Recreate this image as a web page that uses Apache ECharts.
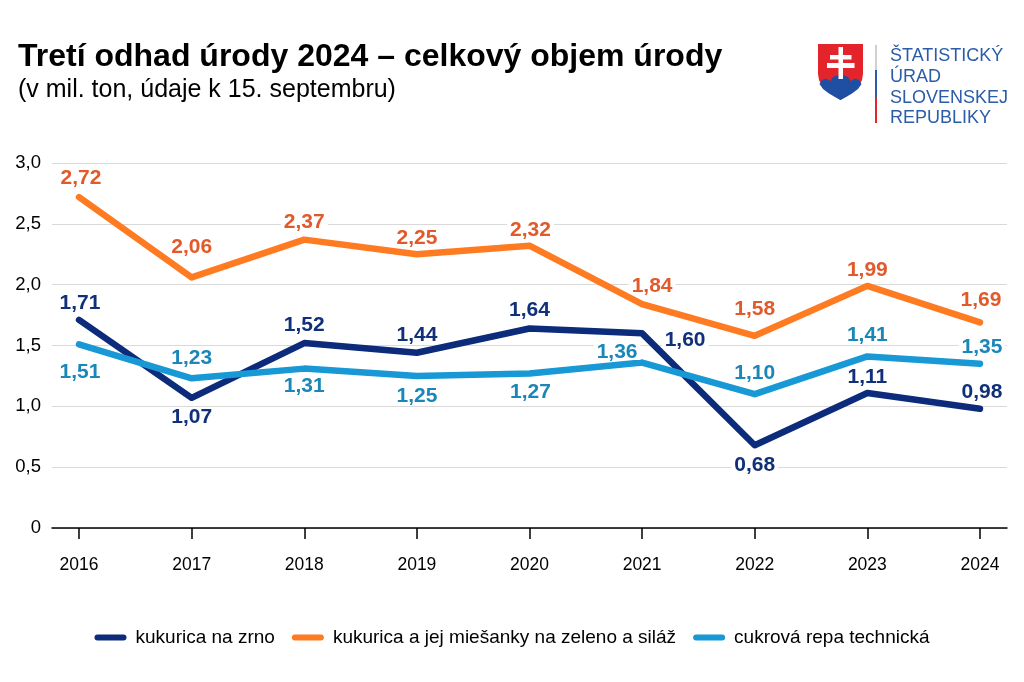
<!DOCTYPE html>
<html>
<head>
<meta charset="utf-8">
<script src="https://cdn.jsdelivr.net/npm/echarts@6/dist/echarts.min.js"></script>
<style>
html,body{margin:0;padding:0;background:#fff;}
#chart{width:1024px;height:682px;}
</style>
</head>
<body>
<div id="chart"></div>
<script>
// ---- data ----
const years = [2016, 2017, 2018, 2019, 2020, 2021, 2022, 2023, 2024];
const kukuricaZrno = [1.71, 1.07, 1.52, 1.44, 1.64, 1.60, 0.68, 1.11, 0.98];
const kukuricaSilaz = [2.72, 2.06, 2.37, 2.25, 2.32, 1.84, 1.58, 1.99, 1.69];
const cukrovaRepa = [1.51, 1.23, 1.31, 1.25, 1.27, 1.36, 1.10, 1.41, 1.35];
const seriesNames = ['kukurica na zrno', 'kukurica a jej miešanky na zeleno a siláž', 'cukrová repa technická'];

// ---- style ----
const lineColors = ['#0c2b7b', '#ff7b22', '#1898d5'];
const labelColors = ['#10307a', '#e2592a', '#1a87b8'];
const labelOffsets = [
  [[1,-17],[0,19],[0,-18],[0,-18],[0,-18],[43,7],[0,20],[0,-16],[2,-17]],
  [[2,-19],[0,-30],[0,-17],[0,-16],[1,-16],[10,-18],[0,-27],[0,-16],[1,-22]],
  [[1,28],[0,-20],[0,18],[0,20],[1,19],[-25,-10],[0,-21],[0,-21],[2,-17]]
];
const FONT = '"Liberation Sans", Arial, sans-serif';
const fmt = v => v.toFixed(2).replace('.', ',');

function mkSeries(idx, values) {
  return {
    name: seriesNames[idx],
    type: 'line',
    data: values.map((v, i) => ({
      value: [years[i], v],
      label: { offset: labelOffsets[idx][i] }
    })),
    color: lineColors[idx],
    lineStyle: { width: 6.5, color: lineColors[idx], cap: 'round', join: 'round' },
    symbol: 'circle',
    symbolSize: 1,
    showSymbol: true,
    itemStyle: { color: lineColors[idx] },
    emphasis: { disabled: true },
    label: {
      show: true,
      position: 'inside',
      formatter: p => fmt(p.value[1]),
      color: labelColors[idx],
      fontFamily: FONT,
      fontWeight: 'bold',
      fontSize: 21,
      lineHeight: 15,
      backgroundColor: '#ffffff',
      padding: [0, 3],
      verticalAlign: 'middle',
      align: 'center'
    },
    animation: false
  };
}

const chart = echarts.init(document.getElementById('chart'), null, { renderer: 'canvas' });

const logoBlue = '#2a5ca8';
const logoRed = '#e3242b';

chart.setOption({
  backgroundColor: '#ffffff',
  animation: false,
  title: [
    {
      text: 'Tretí odhad úrody 2024 – celkový objem úrody',
      left: 13, top: 36,
      textStyle: { fontFamily: FONT, fontWeight: 'bold', fontSize: 32, color: '#000' }
    },
    {
      text: '(v mil. ton, údaje k 15. septembru)',
      left: 13, top: 73,
      textStyle: { fontFamily: FONT, fontWeight: 'normal', fontSize: 25, color: '#000' }
    }
  ],
  grid: { left: 52, right: 17, top: 163, bottom: 154, containLabel: false },
  xAxis: {
    type: 'value',
    min: 2015.76,
    max: 2024.24,
    splitLine: { show: false },
    axisLine: { show: true, lineStyle: { color: '#000', width: 1.5 } },
    axisTick: { show: true, length: 11, lineStyle: { color: '#000', width: 1.5 }, customValues: years },
    axisLabel: {
      customValues: years,
      formatter: v => String(v),
      fontFamily: FONT, fontSize: 17.5, color: '#000', margin: 28
    }
  },
  yAxis: {
    type: 'value',
    min: 0, max: 3, interval: 0.5,
    axisLine: { show: false },
    axisTick: { show: false },
    splitLine: { lineStyle: { color: '#d9d9d9', width: 1 } },
    axisLabel: {
      formatter: v => (v === 0 ? '0' : v.toFixed(1).replace('.', ',')),
      fontFamily: FONT, fontSize: 18.5, color: '#000', margin: 11
    }
  },
  legend: {
    data: seriesNames,
    bottom: 30,
    left: 'center',
    itemWidth: 32,
    itemHeight: 6,
    itemGap: 17,
    icon: 'path://M3,0 H29 A3,3 0 0 1 29,6 H3 A3,3 0 0 1 3,0 Z',
    textStyle: { fontFamily: FONT, fontSize: 19, color: '#000', padding: [0, 0, 0, 4] },
    selectedMode: false
  },
  series: [
    mkSeries(0, kukuricaZrno),
    mkSeries(1, kukuricaSilaz),
    mkSeries(2, cukrovaRepa)
  ],
  graphic: [
    { type: 'polygon', shape: { points: [[818,44],[863,44],[863,74],[862,80],[859,86],[854,91],[847,96],[840.5,100],[834,96],[827,91],[822,86],[819,80],[818,74]] }, style: { fill: logoRed } },
    { type: 'polygon', shape: { points: [[819.5,84],[822,80],[826,78.5],[830.5,81],[833,77],[837,75.5],[840.5,75.2],[844,75.5],[848,77],[850.5,81],[855,78.5],[859,80],[861.5,84],[858,89],[852,93.5],[846,97],[840.5,100],[835,97],[829,93.5],[823,89]] }, style: { fill: '#1f4fa3' } },
    { type: 'rect', shape: { x: 838.5, y: 47, width: 4.5, height: 32 }, style: { fill: '#fff' } },
    { type: 'rect', shape: { x: 830, y: 55, width: 21.5, height: 4.5 }, style: { fill: '#fff' } },
    { type: 'rect', shape: { x: 827, y: 63, width: 27.5, height: 5 }, style: { fill: '#fff' } },
    { type: 'rect', shape: { x: 875, y: 45, width: 2, height: 25 }, style: { fill: '#d0d0d0' } },
    { type: 'rect', shape: { x: 875, y: 70, width: 2, height: 27 }, style: { fill: logoBlue } },
    { type: 'rect', shape: { x: 875, y: 97, width: 2, height: 26 }, style: { fill: logoRed } },
    { type: 'text', x: 890, y: 56.5, style: { text: 'ŠTATISTICKÝ', fill: logoBlue, font: '18px ' + FONT, verticalAlign: 'middle' } },
    { type: 'text', x: 890, y: 77.5, style: { text: 'ÚRAD', fill: logoBlue, font: '18px ' + FONT, verticalAlign: 'middle' } },
    { type: 'text', x: 890, y: 98.5, style: { text: 'SLOVENSKEJ', fill: logoBlue, font: '18px ' + FONT, verticalAlign: 'middle' } },
    { type: 'text', x: 890, y: 118.5, style: { text: 'REPUBLIKY', fill: logoBlue, font: '18px ' + FONT, verticalAlign: 'middle' } }
  ]
});
</script>
</body>
</html>
